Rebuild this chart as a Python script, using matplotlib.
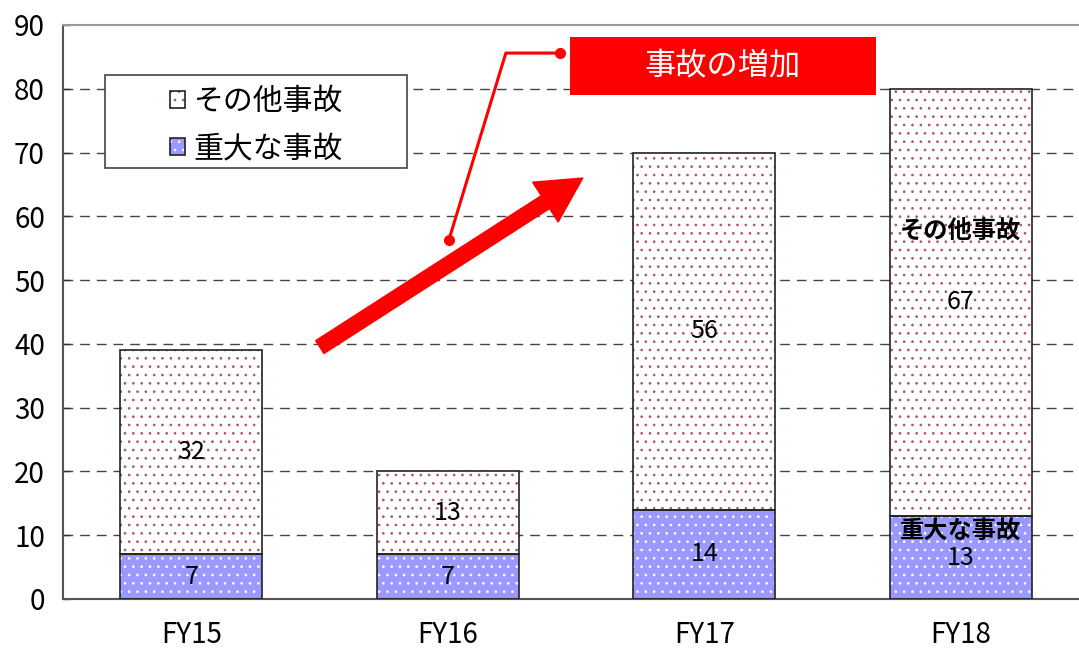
import matplotlib
matplotlib.use("Agg")
import matplotlib.pyplot as plt
from matplotlib.patches import Rectangle, FancyArrowPatch, ArrowStyle
from matplotlib.legend_handler import HandlerTuple

plt.rcParams['font.family'] = ['Noto Sans CJK JP', 'DejaVu Sans']
plt.rcParams['hatch.linewidth'] = 0.7

# data
years = ['FY15', 'FY16', 'FY17', 'FY18']
serious = [7, 7, 14, 13]        # 重大な事故
other = [32, 13, 56, 67]        # その他事故
label_serious = '重大な事故'
label_other = 'その他事故'
callout_text = '事故の増加'

# colours
blue = '#9999FF'
dot_red = '#B0507A'
red = '#FF0000'

fig = plt.figure(figsize=(10.79, 6.48), dpi=100)
ax = fig.add_axes([63 / 1079, 49 / 648, 1 - 63 / 1079, 574 / 648])

x = range(len(years))
w = 0.553

# bars drawn twice: once for the dotted fill, once for the black outline
h_ser = ax.bar(x, serious, w, color=blue, edgecolor='white', hatch='..', linewidth=0, zorder=2)
e_ser = ax.bar(x, serious, w, color='none', edgecolor='#222222', linewidth=1.2, zorder=3)
h_oth = ax.bar(x, other, w, bottom=serious, color='white', edgecolor=dot_red, hatch='..',
               linewidth=0, zorder=2)
e_oth = ax.bar(x, other, w, bottom=serious, color='none', edgecolor='#222222', linewidth=1.2,
               zorder=3)

# values in the middle of every segment
for i in x:
    ax.text(i, serious[i] / 2, str(serious[i]), ha='center', va='center', fontsize=18, zorder=5)
    ax.text(i, serious[i] + other[i] / 2, str(other[i]), ha='center', va='center', fontsize=18,
            zorder=5)

# series names written inside the last bar
last = len(years) - 1
ax.text(last, 57.5, label_other, ha='center', va='center', fontsize=17.5, fontweight='bold', zorder=5)
ax.text(last, 10.6, label_serious, ha='center', va='center', fontsize=17.5, fontweight='bold', zorder=5)

# axes
ax.set_xlim(-0.5, 3.46)
ax.set_ylim(0, 90)
ax.set_yticks(range(0, 91, 10))
ax.set_xticks(list(x))
ax.set_xticklabels(years)
ax.tick_params(axis='y', direction='in', length=5, width=1, pad=13, labelsize=20, colors='#333333',
               labelcolor='black')
ax.tick_params(axis='x', length=0, pad=15, labelsize=20)
for yv in range(10, 90, 10):
    ax.axhline(yv, color='#444444', linestyle=(0, (7, 5)), linewidth=1, zorder=1)
ax.spines['right'].set_visible(False)
ax.spines['top'].set_color('#999999')
ax.spines['top'].set_linewidth(1.5)
ax.spines['left'].set_color('#555555')
ax.spines['left'].set_linewidth(1.5)
ax.spines['bottom'].set_color('#555555')
ax.spines['bottom'].set_linewidth(1.5)

# legend: plain box drawn separately so the entries can sit in the middle of it
ax.add_patch(Rectangle((0.0413, 0.751), 0.2973, 0.162, transform=ax.transAxes, facecolor='white',
                       edgecolor='#444444', linewidth=1.2, zorder=6))
leg = ax.legend([(h_oth[0], e_oth[0]), (h_ser[0], e_ser[0])], [label_other, label_serious],
                handler_map={tuple: HandlerTuple(ndivide=1)},
                loc='center left', bbox_to_anchor=(0.105, 0.826), borderaxespad=0, borderpad=0,
                fontsize=21.5, handlelength=0.5, handleheight=0.5, handletextpad=0.3,
                labelspacing=0.55, frameon=False)
leg.set_zorder(7)

# big red trend arrow
arrow = FancyArrowPatch((0.501, 39.5), (1.526, 66.0),
                        arrowstyle=ArrowStyle('Simple', head_length=1.6, head_width=1.7,
                                              tail_width=0.55),
                        mutation_scale=20, color=red, shrinkA=0, shrinkB=0, zorder=7)
ax.add_patch(arrow)

# callout box
ax.add_patch(Rectangle((1.475, 79.0), 1.192, 9.1, facecolor=red, edgecolor='none', zorder=7,
                       clip_on=False))
ax.text(1.475 + 1.192 / 2, 83.55, callout_text, color='white', fontsize=22.5, ha='center',
        va='center', zorder=8)
ax.plot([1.436, 1.226, 1.004], [85.6, 85.6, 56.3], color=red, linewidth=2.2, zorder=7,
        clip_on=False)
ax.plot([1.436, 1.004], [85.6, 56.3], 'o', color=red, markersize=7, zorder=7, clip_on=False)

fig.savefig('out.png', dpi=100)
